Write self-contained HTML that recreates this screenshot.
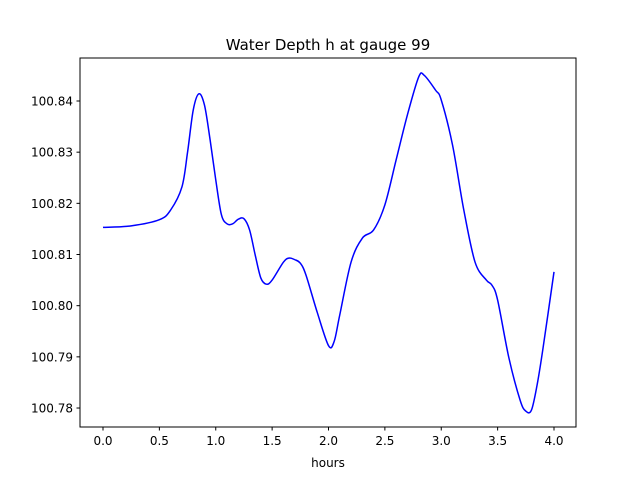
<!DOCTYPE html>
<html><head><meta charset="utf-8">
<style>
body{margin:0;background:#fff;font-family:"Liberation Sans","DejaVu Sans",sans-serif;}
svg text{font-family:"DejaVu Sans","Liberation Sans",sans-serif;font-size:12px;fill:#000;}
</style></head>
<body>
<svg id="chart" width="640" height="480" viewBox="0 0 640 480" xmlns="http://www.w3.org/2000/svg">
<rect width="640" height="480" fill="#fff"/>
<text x="328" y="50" text-anchor="middle" style="font-size:15px">Water Depth h at gauge 99</text>
<g id="plot"></g>
<rect x="80" y="58" width="496" height="369" fill="none" stroke="#000" stroke-width="1"/>
<text x="328" y="467" text-anchor="middle">hours</text>
</svg>
<script>
const hours=[0,0.25,0.5,0.6,0.7,0.75,0.8,0.85,0.9,0.95,1.0,1.05,1.1,1.15,1.2,1.25,1.3,1.35,1.4,1.45,1.5,1.6,1.65,1.7,1.75,1.8,1.9,2.0,2.05,2.1,2.2,2.3,2.4,2.5,2.6,2.7,2.8,2.85,2.95,3.0,3.1,3.2,3.3,3.4,3.45,3.5,3.6,3.7,3.75,3.8,3.85,3.9,4.0];
const depth=[100.8153,100.8156,100.8168,100.8187,100.8232,100.8300,100.8382,100.8414,100.8392,100.8324,100.8246,100.8178,100.8160,100.8160,100.8169,100.8170,100.8148,100.8099,100.8054,100.8042,100.8050,100.8085,100.8093,100.8090,100.8083,100.8060,100.7987,100.7922,100.7930,100.7982,100.8085,100.8132,100.8148,100.8197,100.8285,100.8373,100.8447,100.8450,100.8421,100.8402,100.8314,100.8187,100.8085,100.8050,100.8040,100.8011,100.7898,100.7815,100.7794,100.7796,100.7845,100.7913,100.8066];
const xTicks=[0,0.5,1,1.5,2,2.5,3,3.5,4];
const xTickLabels=["0.0","0.5","1.0","1.5","2.0","2.5","3.0","3.5","4.0"];
const yTicks=[100.78,100.79,100.80,100.81,100.82,100.83,100.84];
const yTickLabels=["100.78","100.79","100.80","100.81","100.82","100.83","100.84"];
const NS="http://www.w3.org/2000/svg";
const xs=h=>103+h*112.75;
const ys=v=>101+(100.84-v)*5117;
const g=document.getElementById('plot');
function mk(t,a){const e=document.createElementNS(NS,t);for(const k in a)e.setAttribute(k,a[k]);return e;}
xTicks.forEach((t,i)=>{
  const l=mk('line',{x1:xs(t),x2:xs(t),y1:427,y2:430.5,stroke:'#000'});
  
  
  g.appendChild(l);
  const tx=mk('text',{x:xs(t),y:445,'text-anchor':'middle'});
  
  
  tx.textContent=xTickLabels[i];g.appendChild(tx);
});
yTicks.forEach((t,i)=>{
  const l=mk('line',{x1:76.5,x2:80,y1:ys(t),y2:ys(t),stroke:'#000'});
  
  
  g.appendChild(l);
  const tx=mk('text',{x:73,y:ys(t)+4.5,'text-anchor':'end'});
  
  
  tx.textContent=yTickLabels[i];g.appendChild(tx);
});
const P=hours.map((h,i)=>[xs(h),ys(depth[i])]);
let d='M'+P[0][0]+','+P[0][1];
for(let i=0;i<P.length-1;i++){
  const p0=P[i-1]||P[i],p1=P[i],p2=P[i+1],p3=P[i+2]||P[i+1];
  const c1=[p1[0]+(p2[0]-p0[0])/6,p1[1]+(p2[1]-p0[1])/6];
  const c2=[p2[0]-(p3[0]-p1[0])/6,p2[1]-(p3[1]-p1[1])/6];
  d+=' C'+c1+' '+c2+' '+p2;
}
const path=mk('path',{d:d,fill:'none',stroke:'#0000ff','stroke-width':1.5});


g.appendChild(path);
</script>
</body></html>
